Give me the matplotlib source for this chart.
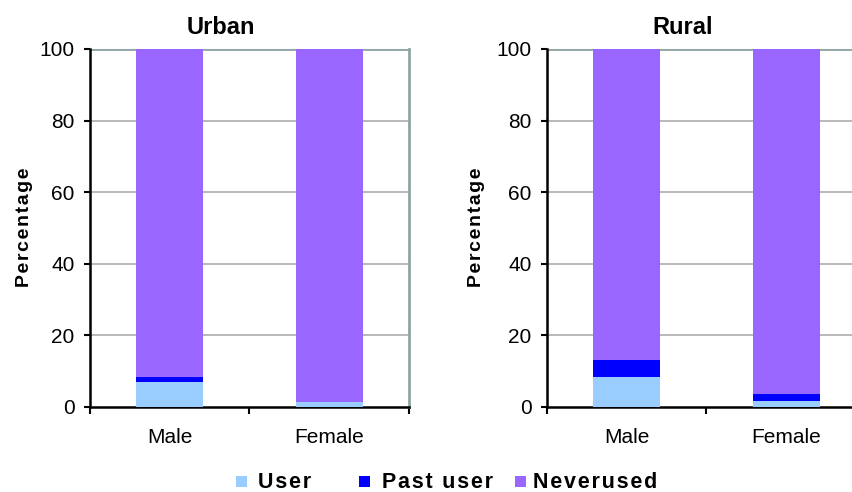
import matplotlib
matplotlib.use("Agg")
import matplotlib.pyplot as plt
from matplotlib.patches import Rectangle
import numpy as np

plt.rcParams['font.family'] = ['Liberation Sans', 'DejaVu Sans']

categories = ["Male", "Female"]
series_names = ["User", "Past user", "Neverused"]
colors = ["#99ccff", "#0000ff", "#9966ff"]

urban_user = [7.0, 1.5]
urban_past = [1.5, 0.0]
urban_never = [91.5, 98.5]

rural_user = [8.5, 1.8]
rural_past = [4.5, 1.9]
rural_never = [87.0, 96.3]

W, H = 853, 492
# (title, series, axes left px, title centre px, ylabel centre px)
panels = [("Urban", [urban_user, urban_past, urban_never], 90, 221, 25),
          ("Rural", [rural_user, rural_past, rural_never], 547, 683, 477)]

fig = plt.figure(figsize=(W / 100, H / 100), dpi=100)
HS = "\u200a"

for title, series, left_px, title_px, ylab_px in panels:
    ax = fig.add_axes([left_px / W, 1 - 407 / H, 319 / W, (407 - 49) / H])
    x = np.arange(len(categories))
    bottom = np.zeros(len(categories))
    for vals, c in zip(series, colors):
        ax.bar(x, vals, width=0.42, bottom=bottom, color=c, zorder=3)
        bottom += np.array(vals)
    ax.set_xlim(-0.5, len(categories) - 0.5)
    ax.set_ylim(0, 100)
    ax.set_yticks([0, 20, 40, 60, 80, 100])
    ax.tick_params(axis='y', labelsize=15, length=4.5, width=1.5, direction='out', pad=6.5)
    for yv in [20, 40, 60, 80]:
        ax.axhline(yv, color="#b3b3b3", lw=1.3, zorder=1)
    ax.axhline(100, color="#8fa5a5", lw=2, zorder=1)
    ax.set_xticks(np.arange(-0.5, len(categories), 1.0))
    ax.set_xticklabels([])
    ax.set_xticks(x, minor=True)
    ax.set_xticklabels(categories, minor=True, fontsize=15)
    ax.tick_params(axis='x', which='major', length=5, width=1.5, direction='out')
    ax.tick_params(axis='x', which='minor', length=0, pad=15)
    ax.spines["top"].set_visible(False)
    ax.spines["right"].set_color("#8fa5a5")
    ax.spines["right"].set_linewidth(2)
    ax.spines["left"].set_linewidth(1.8)
    ax.spines["bottom"].set_linewidth(1.8)
    fig.text(title_px / W, 1 - 27 / H, title, fontsize=17, fontweight='bold',
             ha='center', va='center')
    fig.text(ylab_px / W, 1 - 227 / H, HS.join("Percentage"), fontsize=14,
             fontweight='bold', rotation=90, ha='center', va='center')

# legend drawn manually, Excel style
sq_left = [236, 359, 515]
txt_left = [258, 382, 533]
ly = 481
for i, name in enumerate(series_names):
    fig.patches.append(Rectangle((sq_left[i] / W, 1 - (ly + 5.5) / H), 11 / W, 11 / H,
                                 transform=fig.transFigure, facecolor=colors[i],
                                 edgecolor='none'))
    fig.text(txt_left[i] / W, 1 - (ly + 7) / H, HS.join(name), fontsize=15.5,
             fontweight='bold', ha='left', va='baseline')

fig.savefig("out.png", dpi=100)
